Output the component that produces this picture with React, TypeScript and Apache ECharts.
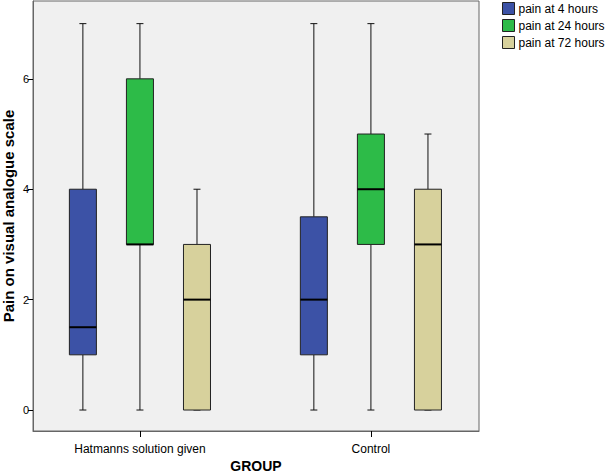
import React, { useEffect, useRef } from "react";
import * as echarts from "echarts";

const categories = ["Hatmanns solution given", "Control"];
const seriesNames = ["pain at 4 hours", "pain at 24 hours", "pain at 72 hours"];
// [min, Q1, median, Q3, max]
const pain4h = [
  [0, 1, 1.5, 4, 7],
  [0, 1, 2, 3.5, 7],
];
const pain24h = [
  [0, 3, 3, 6, 7],
  [0, 3, 4, 5, 7],
];
const pain72h = [
  [0, 0, 2, 3, 4],
  [0, 0, 3, 4, 5],
];
const yTicks = [0, 2, 4, 6];
const colors = ["#3c52a6", "#2dbb48", "#d7d19c"];
const offsets = [-0.247, 0, 0.247];

export default function App() {
  const ref = useRef<HTMLDivElement>(null);
  useEffect(() => {
    if (!ref.current) return;
    const chart = echarts.init(ref.current, null, { renderer: "svg" });
    const allData = [pain4h, pain24h, pain72h];
    const series = allData.map((arr, si) => ({
      type: "custom",
      name: seriesNames[si],
      itemStyle: { color: colors[si], borderColor: "#222" },
      encode: { x: 0, y: [1, 2, 3, 4, 5] },
      data: categories.map((_, i) => [i, ...arr[i]]),
      renderItem: (params: any, api: any) => {
        const gi = api.value(0);
        const xv = gi + offsets[si];
        const cx = api.coord([xv, 0])[0];
        const w = api.size([0.117, 0])[0];
        const y = (v: number) => api.coord([xv, v])[1];
        const yMin = y(api.value(1));
        const yQ1 = y(api.value(2));
        const yMed = y(api.value(3));
        const yQ3 = y(api.value(4));
        const yMax = y(api.value(5));
        const cap = 3.5;
        const lineStyle = { stroke: "#111", lineWidth: 1 };
        return {
          type: "group",
          children: [
            { type: "line", shape: { x1: cx, y1: yMax, x2: cx, y2: yQ3 }, style: lineStyle },
            { type: "line", shape: { x1: cx, y1: yQ1, x2: cx, y2: yMin }, style: lineStyle },
            { type: "line", shape: { x1: cx - cap, y1: yMax, x2: cx + cap, y2: yMax }, style: lineStyle },
            { type: "line", shape: { x1: cx - cap, y1: yMin, x2: cx + cap, y2: yMin }, style: lineStyle },
            {
              type: "rect",
              shape: { x: cx - w / 2, y: yQ3, width: w, height: yQ1 - yQ3 },
              style: { fill: colors[si], stroke: "#222", lineWidth: 1 },
            },
            {
              type: "line",
              shape: { x1: cx - w / 2, y1: yMed, x2: cx + w / 2, y2: yMed },
              style: { stroke: "#000", lineWidth: 2 },
            },
          ],
        };
      },
    }));
    chart.setOption({
      animation: false,
      textStyle: { fontFamily: "Liberation Sans, Arial, sans-serif" },
      grid: {
        left: 33,
        top: 1,
        right: 127,
        bottom: 43,
        show: true,
        outerBoundsMode: "none",
        containLabel: false,
        backgroundColor: "#f0f0f0",
        borderColor: "#666",
        borderWidth: 1,
      },
      legend: {
        orient: "vertical",
        left: 502,
        top: 2,
        padding: 0,
        itemWidth: 12,
        itemHeight: 12,
        itemGap: 4,
        icon: "rect",
        data: seriesNames,
        textStyle: { fontSize: 12, color: "#000", padding: [0, 0, 0, -1] },
        itemStyle: { borderColor: "#222", borderWidth: 1 },
      },
      xAxis: {
        type: "value",
        min: -0.463,
        max: 1.468,
        name: "GROUP",
        nameLocation: "middle",
        nameGap: 28,
        nameMoveOverlap: false,
        nameTextStyle: { fontSize: 14, fontWeight: "bold", color: "#000" },
        axisLine: { show: true, onZero: false, lineStyle: { color: "#666" } },
        axisTick: { show: true, length: 6, customValues: [0, 1], lineStyle: { color: "#000" } },
        axisLabel: {
          customValues: [0, 1],
          formatter: (v: number) => categories[Math.round(v)] ?? "",
          fontSize: 12,
          color: "#000",
          margin: 12,
        },
        splitLine: { show: false },
      },
      yAxis: {
        type: "value",
        min: -0.38,
        max: 7.41,
        name: "Pain on visual analogue scale",
        nameLocation: "middle",
        nameGap: 17,
        nameMoveOverlap: false,
        nameTextStyle: { fontSize: 15, lineHeight: 15, fontWeight: "bold", color: "#000" },
        axisLine: { show: true, onZero: false, lineStyle: { color: "#666" } },
        axisTick: { show: true, length: 5, customValues: yTicks, lineStyle: { color: "#000" } },
        axisLabel: { customValues: yTicks, fontSize: 11, color: "#000", margin: 4 },
        splitLine: { show: false },
      },
      series,
    });
    return () => chart.dispose();
  }, []);
  return (
    <div
      ref={ref}
      style={{ position: "fixed", left: 0, top: 0, width: 606, height: 474, background: "#fff" }}
    />
  );
}
